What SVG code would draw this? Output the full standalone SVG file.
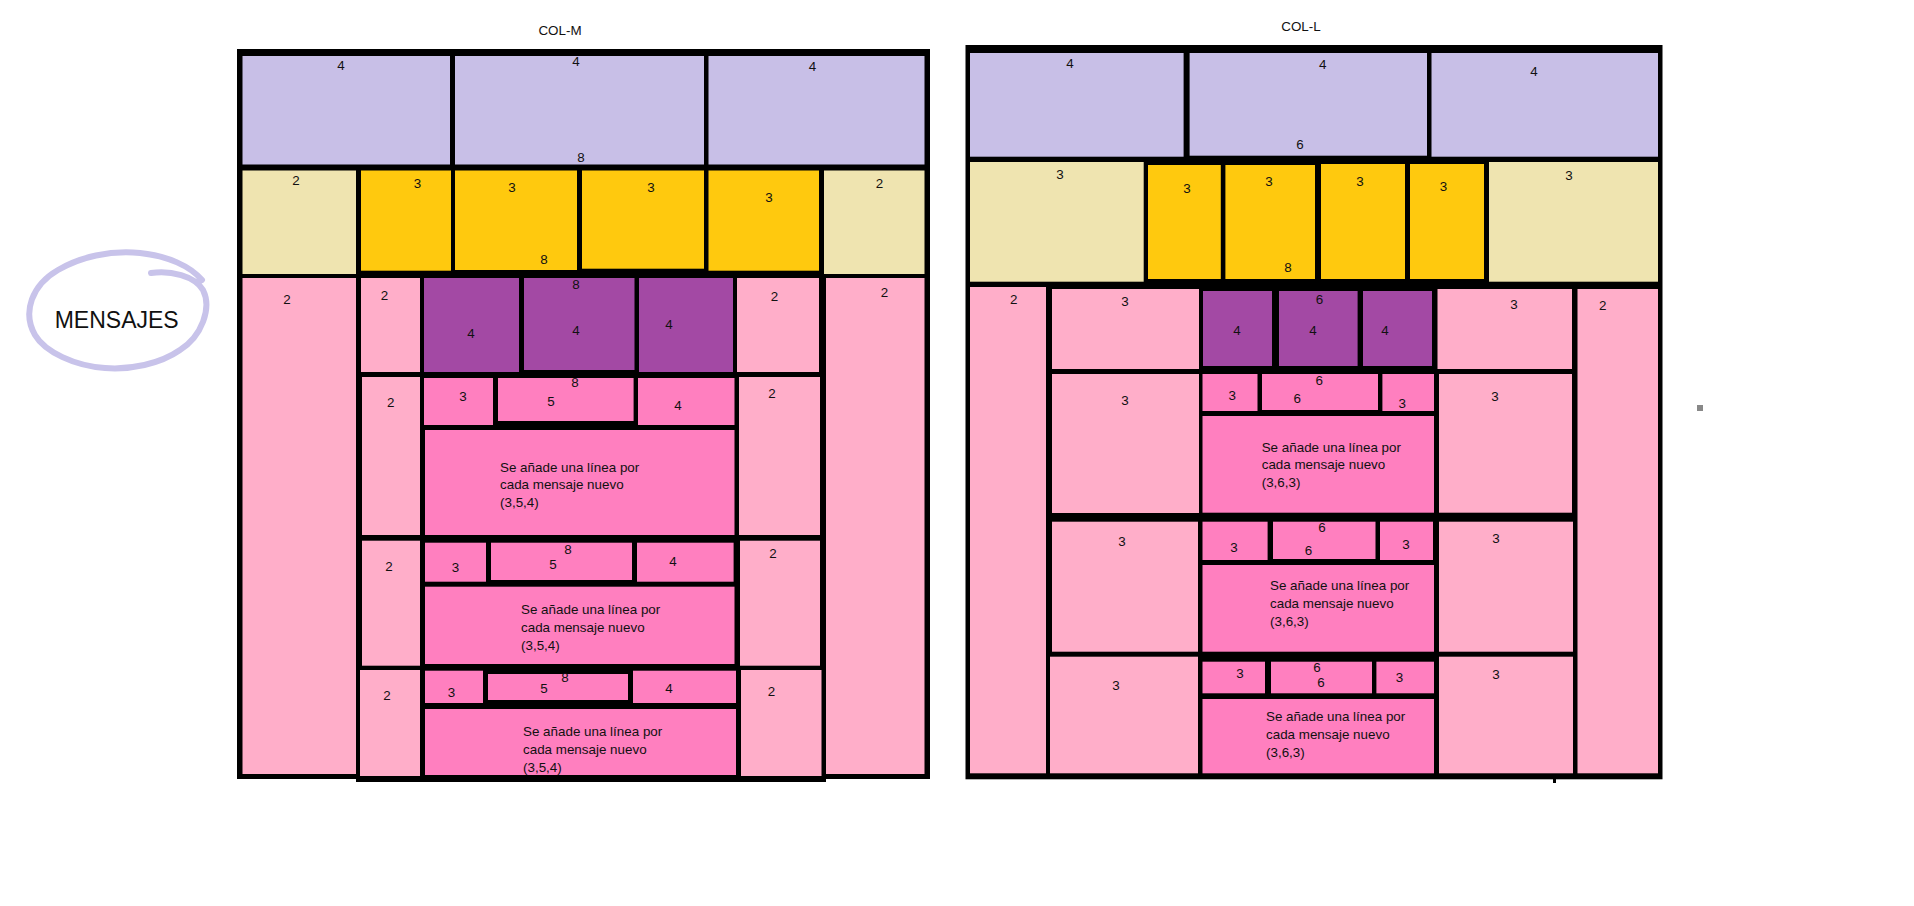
<svg xmlns="http://www.w3.org/2000/svg" width="1914" height="906" viewBox="0 0 1914 906">
<style>
.frame{fill:#000}
.lav{fill:#c8bfe7}
.tan{fill:#efe4b0}
.gold{fill:#ffc90e}
.pur{fill:#a349a4}
.rose{fill:#ffaec9}
.hot{fill:#ff7fbf}
text{font-family:"Liberation Sans",Arial,sans-serif;font-size:13.4px;fill:#111}
.n{text-anchor:middle;dominant-baseline:central}
.title{text-anchor:middle}
.ring{fill:none;stroke:#c8c3ea;stroke-width:6;stroke-linecap:round;stroke-linejoin:round}
</style>
<rect width="1914" height="906" fill="#fff"/>

<g id="mensajes">
<path class="ring" d="M151,273 C170,270 195,276 203,290 C212,308 202,336 180,350 C160,364 130,370 105,368 C75,366 45,352 35,335 C22,312 32,285 58,270 C80,257 110,250 140,253 C168,256 190,266 202,280"/>
<text x="116.7" y="328" style="font-size:23px;text-anchor:middle">MENSAJES</text>
</g>

<g id="col-m">
<text class="title" x="560" y="35">COL-M</text>
<rect class="frame" x="237" y="49" width="693" height="730"/>
<rect class="frame" x="356" y="774" width="470" height="8"/>
<g id="m-lav1"><rect class="lav" x="242.5" y="56" width="207.5" height="108.5"/><text class="n" x="341" y="65">4</text></g>
<g id="m-lav2"><rect class="lav" x="455" y="56" width="249" height="108.5"/><text class="n" x="576" y="61">4</text><text class="n" x="581" y="157.7">8</text></g>
<g id="m-lav3"><rect class="lav" x="708.5" y="56" width="216" height="108.5"/><text class="n" x="812.6" y="66.7">4</text></g>
<g id="m-tan1"><rect class="tan" x="242.5" y="170.5" width="113.5" height="103.5"/><text class="n" x="296" y="180">2</text></g>
<g id="m-gold1"><rect class="gold" x="361" y="170.5" width="90" height="100.2"/><text class="n" x="417.5" y="183">3</text></g>
<g id="m-gold2"><rect class="gold" x="455" y="170.5" width="122" height="99.5"/><text class="n" x="512" y="187">3</text><text class="n" x="544" y="259">8</text></g>
<g id="m-gold3"><rect class="gold" x="582" y="170.5" width="122" height="98.2"/><text class="n" x="651" y="187">3</text></g>
<g id="m-gold4"><rect class="gold" x="708.5" y="170.5" width="110.5" height="100.2"/><text class="n" x="769" y="197">3</text></g>
<g id="m-tan2"><rect class="tan" x="824" y="170.5" width="100.5" height="103.5"/><text class="n" x="879.5" y="183">2</text></g>
<g id="m-outer-left"><rect class="rose" x="242.5" y="278" width="113.5" height="496"/><text class="n" x="287" y="299">2</text></g>
<g id="m-outer-right"><rect class="rose" x="826" y="278" width="98.5" height="496"/><text class="n" x="884.5" y="292">2</text></g>
<g id="m-a-left"><rect class="rose" x="361" y="278" width="59" height="94"/><text class="n" x="384.5" y="295.7">2</text></g>
<g id="m-a-p1"><rect class="pur" x="424" y="278" width="95" height="94"/><text class="n" x="471" y="333">4</text></g>
<g id="m-a-p2"><rect class="pur" x="524" y="278" width="110.5" height="92"/><text class="n" x="576" y="284">8</text><text class="n" x="576" y="330">4</text></g>
<g id="m-a-p3"><rect class="pur" x="639" y="278" width="94" height="94"/><text class="n" x="669" y="324">4</text></g>
<g id="m-a-right"><rect class="rose" x="737" y="278" width="82" height="94"/><text class="n" x="774.6" y="296">2</text></g>
<g id="m-b-left"><rect class="rose" x="362" y="377" width="58" height="158"/><text class="n" x="390.7" y="402.7">2</text></g>
<g id="m-b-c3"><rect class="hot" x="424" y="378" width="69" height="47"/><text class="n" x="463" y="396.7">3</text></g>
<g id="m-b-c5"><rect class="hot" x="498" y="378" width="135.6" height="43"/><text class="n" x="575" y="382.5">8</text><text class="n" x="551" y="401.7">5</text></g>
<g id="m-b-c4"><rect class="hot" x="638" y="378" width="96.5" height="47"/><text class="n" x="678" y="405.7">4</text></g>
<g id="m-b-text"><rect class="hot" x="425" y="430" width="309.5" height="105"/><text><tspan x="500" y="471.7">Se añade una línea por</tspan><tspan x="500" y="489.3">cada mensaje nuevo</tspan><tspan x="500" y="507">(3,5,4)</tspan></text></g>
<g id="m-b-right"><rect class="rose" x="739" y="377" width="81" height="158"/><text class="n" x="772" y="393">2</text></g>
<g id="m-c-left"><rect class="rose" x="362" y="540.7" width="58" height="125"/><text class="n" x="389" y="566.7">2</text></g>
<g id="m-c-c3"><rect class="hot" x="425" y="542.7" width="61" height="39"/><text class="n" x="455.4" y="567.7">3</text></g>
<g id="m-c-c5"><rect class="hot" x="491" y="542.7" width="141" height="37.3"/><text class="n" x="568" y="549">8</text><text class="n" x="553" y="564.3">5</text></g>
<g id="m-c-c4"><rect class="hot" x="637" y="542.7" width="96.6" height="39"/><text class="n" x="673" y="561.7">4</text></g>
<g id="m-c-text"><rect class="hot" x="425" y="586.7" width="309.5" height="77.3"/><text><tspan x="521" y="614">Se añade una línea por</tspan><tspan x="521" y="631.7">cada mensaje nuevo</tspan><tspan x="521" y="650">(3,5,4)</tspan></text></g>
<g id="m-c-right"><rect class="rose" x="740" y="540.7" width="80" height="125"/><text class="n" x="773" y="553">2</text></g>
<g id="m-d-left"><rect class="rose" x="360" y="670" width="60" height="106"/><text class="n" x="387" y="695.7">2</text></g>
<g id="m-d-c3"><rect class="hot" x="425" y="670.7" width="58" height="32.3"/><text class="n" x="451.4" y="692.3">3</text></g>
<g id="m-d-c5"><rect class="hot" x="488" y="674" width="140" height="26"/><text class="n" x="565" y="677">8</text><text class="n" x="544" y="688.7">5</text></g>
<g id="m-d-c4"><rect class="hot" x="633" y="670.7" width="103" height="32.3"/><text class="n" x="669" y="688.7">4</text></g>
<g id="m-d-text"><rect class="hot" x="425" y="709" width="311" height="66"/><text><tspan x="523" y="735.7">Se añade una línea por</tspan><tspan x="523" y="754">cada mensaje nuevo</tspan><tspan x="523" y="771.7">(3,5,4)</tspan></text></g>
<g id="m-d-right"><rect class="rose" x="741" y="670" width="80.5" height="106"/><text class="n" x="771.5" y="691.7">2</text></g>
</g>

<g id="col-l">
<text class="title" x="1301" y="30.7">COL-L</text>
<rect class="frame" x="965.5" y="45" width="697" height="734.3"/>
<rect class="frame" x="1553" y="778" width="3" height="5"/>
<g id="l-lav1"><rect class="lav" x="970" y="53" width="213.6" height="103.7"/><text class="n" x="1070" y="63.3">4</text></g>
<g id="l-lav2"><rect class="lav" x="1189.6" y="53" width="237.4" height="102.7"/><text class="n" x="1322.7" y="64.3">4</text><text class="n" x="1300" y="144.3">6</text></g>
<g id="l-lav3"><rect class="lav" x="1431.5" y="53" width="226.5" height="103.7"/><text class="n" x="1534" y="71">4</text></g>
<g id="l-tan1"><rect class="tan" x="970" y="162" width="173.7" height="119.7"/><text class="n" x="1060" y="174.3">3</text></g>
<g id="l-gold1"><rect class="gold" x="1148" y="165" width="72.8" height="114"/><text class="n" x="1187" y="188.3">3</text></g>
<g id="l-gold2"><rect class="gold" x="1225.4" y="165" width="89.6" height="114"/><text class="n" x="1269" y="181.7">3</text><text class="n" x="1288" y="267.3">8</text></g>
<g id="l-gold3"><rect class="gold" x="1321" y="164" width="84" height="115"/><text class="n" x="1360" y="181.7">3</text></g>
<g id="l-gold4"><rect class="gold" x="1410" y="164" width="74" height="115"/><text class="n" x="1443.5" y="186.7">3</text></g>
<g id="l-tan2"><rect class="tan" x="1489" y="162" width="169" height="119.7"/><text class="n" x="1569" y="175.7">3</text></g>
<g id="l-outer-left"><rect class="rose" x="970" y="287" width="76" height="486.3"/><text class="n" x="1013.7" y="299.3">2</text></g>
<g id="l-outer-right"><rect class="rose" x="1577.5" y="289" width="80.5" height="484.3"/><text class="n" x="1602.8" y="305">2</text></g>
<g id="l-a-left"><rect class="rose" x="1052" y="289" width="147" height="80"/><text class="n" x="1125" y="301.7">3</text></g>
<g id="l-a-p1"><rect class="pur" x="1203" y="291" width="69" height="75"/><text class="n" x="1237" y="330">4</text></g>
<g id="l-a-p2"><rect class="pur" x="1279" y="291" width="78.6" height="75"/><text class="n" x="1319.5" y="299.3">6</text><text class="n" x="1313" y="330">4</text></g>
<g id="l-a-p3"><rect class="pur" x="1363" y="291" width="69" height="75"/><text class="n" x="1385" y="330">4</text></g>
<g id="l-a-right"><rect class="rose" x="1437.5" y="289" width="134.5" height="80"/><text class="n" x="1514" y="304.3">3</text></g>
<g id="l-b-left"><rect class="rose" x="1052" y="374" width="147" height="139"/><text class="n" x="1125" y="400">3</text></g>
<g id="l-b-c3"><rect class="hot" x="1202.5" y="374" width="55" height="37"/><text class="n" x="1232.3" y="395.7">3</text></g>
<g id="l-b-c6"><rect class="hot" x="1262" y="374" width="116" height="36"/><text class="n" x="1319.3" y="380.7">6</text><text class="n" x="1297.3" y="398.3">6</text></g>
<g id="l-b-c3b"><rect class="hot" x="1382.4" y="374" width="51.6" height="37"/><text class="n" x="1402.3" y="403.3">3</text></g>
<g id="l-b-text"><rect class="hot" x="1202.5" y="416" width="231.5" height="96.7"/><text><tspan x="1261.7" y="451.7">Se añade una línea por</tspan><tspan x="1261.7" y="469.3">cada mensaje nuevo</tspan><tspan x="1261.7" y="487.3">(3,6,3)</tspan></text></g>
<g id="l-b-right"><rect class="rose" x="1439" y="374" width="133" height="138.7"/><text class="n" x="1495" y="396.7">3</text></g>
<g id="l-c-left"><rect class="rose" x="1052" y="521.7" width="146" height="130"/><text class="n" x="1122" y="541.7">3</text></g>
<g id="l-c-c3"><rect class="hot" x="1202.5" y="521.7" width="65.1" height="38.3"/><text class="n" x="1234" y="547.3">3</text></g>
<g id="l-c-c6"><rect class="hot" x="1273" y="521.7" width="102.5" height="37.3"/><text class="n" x="1322" y="527">6</text><text class="n" x="1308.5" y="550">6</text></g>
<g id="l-c-c3b"><rect class="hot" x="1380" y="521.7" width="53" height="38.3"/><text class="n" x="1406" y="544.3">3</text></g>
<g id="l-c-text"><rect class="hot" x="1202.5" y="565" width="231.5" height="86.7"/><text><tspan x="1270" y="590">Se añade una línea por</tspan><tspan x="1270" y="607.7">cada mensaje nuevo</tspan><tspan x="1270" y="626">(3,6,3)</tspan></text></g>
<g id="l-c-right"><rect class="rose" x="1439" y="521.7" width="134" height="130"/><text class="n" x="1496" y="538.3">3</text></g>
<g id="l-d-left"><rect class="rose" x="1050" y="656.7" width="148" height="116.6"/><text class="n" x="1116" y="685.7">3</text></g>
<g id="l-d-c3"><rect class="hot" x="1202.5" y="661.7" width="62.5" height="31.6"/><text class="n" x="1240" y="673.3">3</text></g>
<g id="l-d-c6"><rect class="hot" x="1271" y="661.7" width="101" height="31.6"/><text class="n" x="1317" y="667.7">6</text><text class="n" x="1321" y="682.7">6</text></g>
<g id="l-d-c3b"><rect class="hot" x="1376.4" y="661.7" width="57.6" height="31.6"/><text class="n" x="1399.4" y="677.3">3</text></g>
<g id="l-d-text"><rect class="hot" x="1202.5" y="699" width="231.5" height="74.3"/><text><tspan x="1266" y="721">Se añade una línea por</tspan><tspan x="1266" y="738.7">cada mensaje nuevo</tspan><tspan x="1266" y="756.7">(3,6,3)</tspan></text></g>
<g id="l-d-right"><rect class="rose" x="1439" y="656.7" width="134" height="116.6"/><text class="n" x="1496" y="674.3">3</text></g>
</g>

<rect x="1697" y="405" width="6" height="6" fill="#888"/>
</svg>
